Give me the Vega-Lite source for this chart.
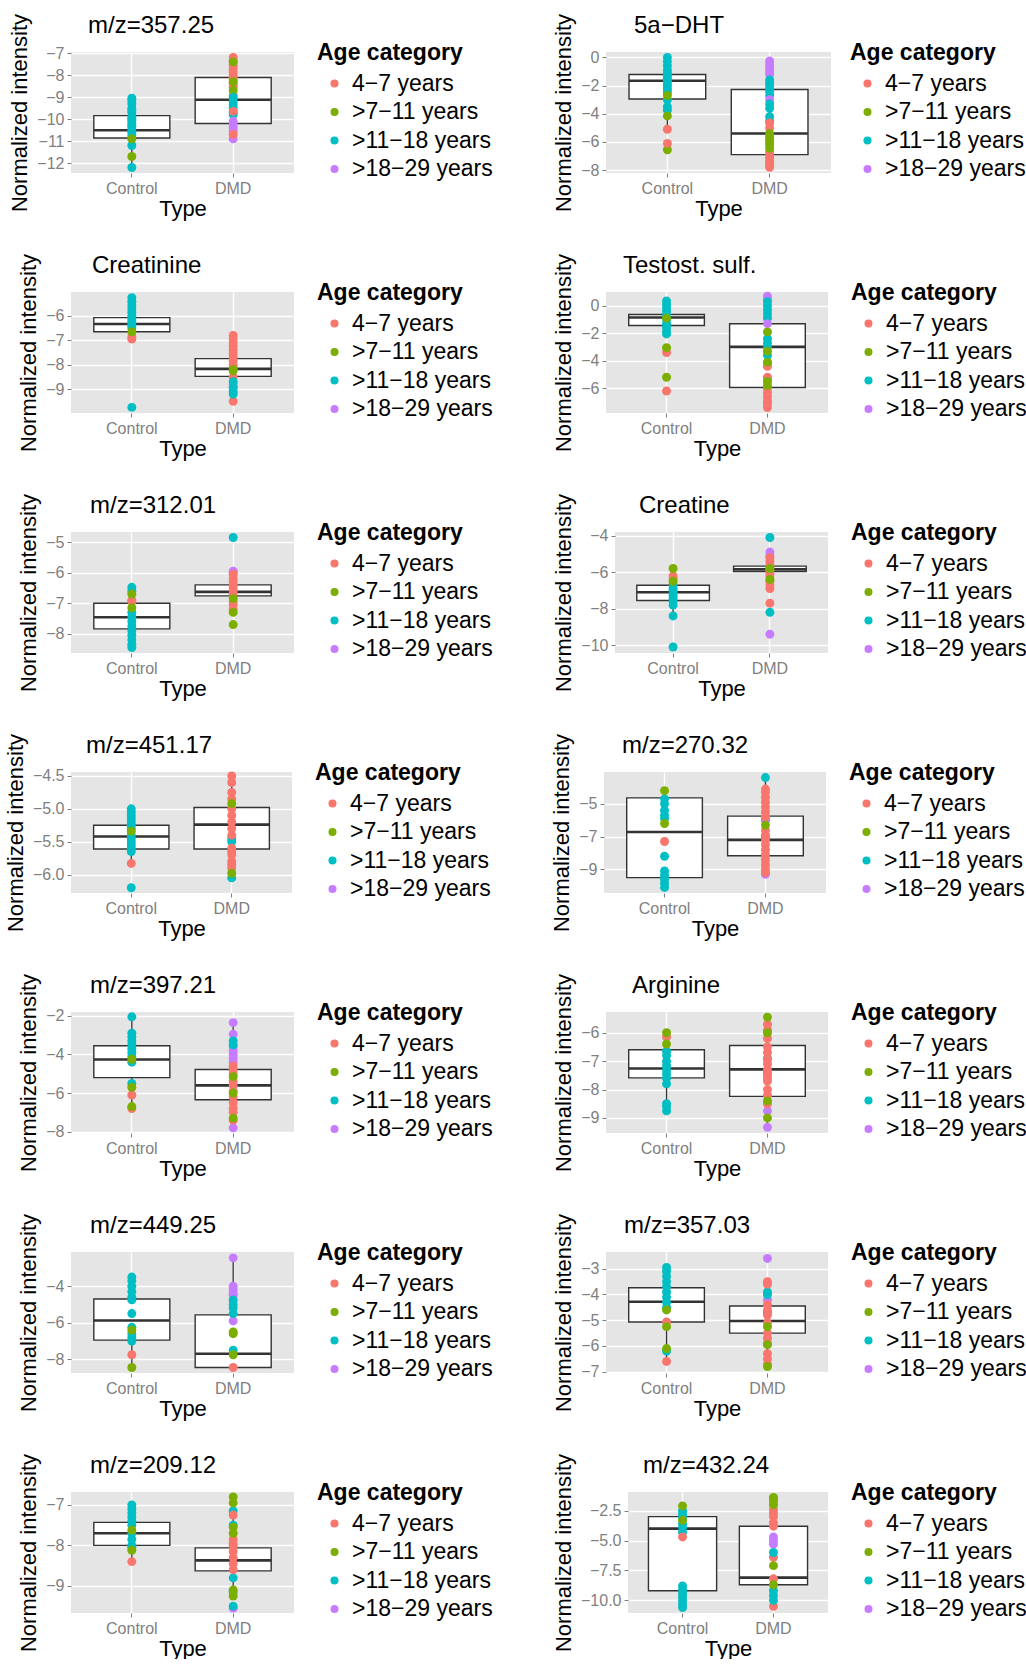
{
"$schema":"https://vega.github.io/schema/vega-lite/v6.json",
"padding":{"left":4,"top":13,"right":0,"bottom":0},
"config":{
 "font":"Liberation Sans",
 "view":{"fill":"#E5E5E5","stroke":null},
 "axis":{"domain":false,"labelOverlap":false,"labelColor":"#7F7F7F","labelFontSize":16,"tickColor":"#7F7F7F","tickSize":4,"tickWidth":1,"labelPadding":3,"titleFontSize":22,"titleFontWeight":"normal","titleColor":"black","gridColor":"white","gridWidth":1.4},
 "axisX":{"labelAngle":0,"titlePadding":2},
 "axisY":{"titlePadding":5,"tickCount":100},
 "title":{"fontSize":24,"fontWeight":"normal","anchor":"start","frame":"group","offset":-25,"color":"black"},
 "legend":{"titleFontSize":23,"titleFontWeight":"bold","titleColor":"black","labelFontSize":23,"labelColor":"black","symbolType":"circle","symbolSize":65,"symbolStrokeWidth":0,"symbolOffset":6,"rowPadding":4.5,"titlePadding":7,"labelOffset":6,"padding":0}
},
"datasets":{
"ages":[{"a":1,"age":"4−7 years"},{"a":2,"age":">7−11 years"},{"a":3,"age":">11−18 years"},{"a":4,"age":">18−29 years"}],
"box":[
{"p":1,"t":"Control","lo":-12.2,"q1":-10.86,"med":-10.51,"q3":-9.84,"hi":-9.05},{"p":1,"t":"DMD","lo":-10.9,"q1":-10.2,"med":-9.12,"q3":-8.11,"hi":-7.2},
{"p":2,"t":"Control","lo":-5.1,"q1":-2.95,"med":-1.66,"q3":-1.22,"hi":0.0},{"p":2,"t":"DMD","lo":-7.8,"q1":-6.9,"med":-5.4,"q3":-2.28,"hi":-0.25},
{"p":3,"t":"Control","lo":-6.95,"q1":-6.65,"med":-6.33,"q3":-6.07,"hi":-5.25},{"p":3,"t":"DMD","lo":-9.5,"q1":-8.48,"med":-8.17,"q3":-7.75,"hi":-6.8},
{"p":4,"t":"Control","lo":-2.05,"q1":-1.44,"med":-0.85,"q3":-0.64,"hi":0.35},{"p":4,"t":"DMD","lo":-7.4,"q1":-5.94,"med":-2.99,"q3":-1.31,"hi":0.7},
{"p":5,"t":"Control","lo":-8.45,"q1":-7.84,"med":-7.46,"q3":-7.0,"hi":-6.48},{"p":5,"t":"DMD","lo":-7.3,"q1":-6.76,"med":-6.63,"q3":-6.4,"hi":-5.95},
{"p":6,"t":"Control","lo":-8.4,"q1":-7.55,"med":-7.1,"q3":-6.72,"hi":-5.8},{"p":6,"t":"DMD","lo":-6.4,"q1":-5.97,"med":-5.85,"q3":-5.67,"hi":-5.2},
{"p":7,"t":"Control","lo":-5.83,"q1":-5.61,"med":-5.42,"q3":-5.25,"hi":-5.0},{"p":7,"t":"DMD","lo":-6.05,"q1":-5.61,"med":-5.24,"q3":-4.98,"hi":-4.5},
{"p":8,"t":"Control","lo":-10.1,"q1":-9.5,"med":-6.72,"q3":-4.64,"hi":-4.2},{"p":8,"t":"DMD","lo":-9.3,"q1":-8.17,"med":-7.2,"q3":-5.75,"hi":-3.4},
{"p":9,"t":"Control","lo":-6.8,"q1":-5.2,"med":-4.26,"q3":-3.55,"hi":-2.05},{"p":9,"t":"DMD","lo":-7.8,"q1":-6.35,"med":-5.6,"q3":-4.78,"hi":-2.35},
{"p":10,"t":"Control","lo":-8.75,"q1":-7.59,"med":-7.26,"q3":-6.6,"hi":-6.0},{"p":10,"t":"DMD","lo":-9.33,"q1":-8.24,"med":-7.29,"q3":-6.45,"hi":-5.45},
{"p":11,"t":"Control","lo":-8.45,"q1":-6.95,"med":-5.88,"q3":-4.7,"hi":-3.5},{"p":11,"t":"DMD","lo":-8.45,"q1":-8.45,"med":-7.7,"q3":-5.57,"hi":-2.45},
{"p":12,"t":"Control","lo":-6.6,"q1":-5.07,"med":-4.28,"q3":-3.74,"hi":-2.95},{"p":12,"t":"DMD","lo":-6.8,"q1":-5.5,"med":-5.03,"q3":-4.45,"hi":-3.5},
{"p":13,"t":"Control","lo":-8.4,"q1":-8.0,"med":-7.7,"q3":-7.43,"hi":-7.0},{"p":13,"t":"DMD","lo":-9.25,"q1":-8.63,"med":-8.37,"q3":-8.06,"hi":-7.25},
{"p":14,"t":"Control","lo":-10.6,"q1":-9.2,"med":-4.0,"q3":-3.0,"hi":-2.1},{"p":14,"t":"DMD","lo":-10.5,"q1":-8.7,"med":-8.1,"q3":-3.8,"hi":-1.4}
],
"pts":[
{"p":1,"t":"Control","a":3,"v":-9.05},{"p":1,"t":"Control","a":3,"v":-9.15},{"p":1,"t":"Control","a":3,"v":-9.3},{"p":1,"t":"Control","a":3,"v":-9.5},{"p":1,"t":"Control","a":3,"v":-9.6},{"p":1,"t":"Control","a":3,"v":-9.7},{"p":1,"t":"Control","a":3,"v":-9.9},{"p":1,"t":"Control","a":3,"v":-10.0},{"p":1,"t":"Control","a":3,"v":-10.05},{"p":1,"t":"Control","a":3,"v":-10.2},{"p":1,"t":"Control","a":3,"v":-10.3},{"p":1,"t":"Control","a":3,"v":-10.35},{"p":1,"t":"Control","a":3,"v":-10.5},{"p":1,"t":"Control","a":3,"v":-10.6},{"p":1,"t":"Control","a":3,"v":-10.75},{"p":1,"t":"Control","a":3,"v":-11.2},{"p":1,"t":"Control","a":3,"v":-12.2},{"p":1,"t":"Control","a":2,"v":-10.9},{"p":1,"t":"Control","a":2,"v":-11.7},
{"p":1,"t":"DMD","a":1,"v":-7.2},{"p":1,"t":"DMD","a":1,"v":-7.35},{"p":1,"t":"DMD","a":1,"v":-7.55},{"p":1,"t":"DMD","a":1,"v":-7.7},{"p":1,"t":"DMD","a":1,"v":-7.85},{"p":1,"t":"DMD","a":1,"v":-8.0},{"p":1,"t":"DMD","a":1,"v":-8.1},{"p":1,"t":"DMD","a":1,"v":-8.2},{"p":1,"t":"DMD","a":1,"v":-8.35},{"p":1,"t":"DMD","a":1,"v":-8.45},{"p":1,"t":"DMD","a":1,"v":-8.55},{"p":1,"t":"DMD","a":1,"v":-8.9},{"p":1,"t":"DMD","a":2,"v":-7.4},{"p":1,"t":"DMD","a":2,"v":-8.3},{"p":1,"t":"DMD","a":2,"v":-8.7},{"p":1,"t":"DMD","a":3,"v":-9.0},{"p":1,"t":"DMD","a":3,"v":-9.2},{"p":1,"t":"DMD","a":3,"v":-9.35},{"p":1,"t":"DMD","a":3,"v":-9.5},{"p":1,"t":"DMD","a":3,"v":-9.7},{"p":1,"t":"DMD","a":3,"v":-9.8},{"p":1,"t":"DMD","a":4,"v":-10.1},{"p":1,"t":"DMD","a":4,"v":-10.25},{"p":1,"t":"DMD","a":4,"v":-10.4},{"p":1,"t":"DMD","a":4,"v":-10.55},{"p":1,"t":"DMD","a":4,"v":-10.9},{"p":1,"t":"DMD","a":1,"v":-9.65},{"p":1,"t":"DMD","a":1,"v":-10.7},
{"p":2,"t":"Control","a":3,"v":0.0},{"p":2,"t":"Control","a":3,"v":-0.3},{"p":2,"t":"Control","a":3,"v":-0.6},{"p":2,"t":"Control","a":3,"v":-0.9},{"p":2,"t":"Control","a":3,"v":-1.1},{"p":2,"t":"Control","a":3,"v":-1.3},{"p":2,"t":"Control","a":3,"v":-1.5},{"p":2,"t":"Control","a":3,"v":-1.7},{"p":2,"t":"Control","a":3,"v":-1.9},{"p":2,"t":"Control","a":3,"v":-2.1},{"p":2,"t":"Control","a":3,"v":-2.3},{"p":2,"t":"Control","a":3,"v":-2.5},{"p":2,"t":"Control","a":3,"v":-3.0},{"p":2,"t":"Control","a":3,"v":-3.5},{"p":2,"t":"Control","a":3,"v":-3.75},{"p":2,"t":"Control","a":2,"v":-2.7},{"p":2,"t":"Control","a":2,"v":-4.15},{"p":2,"t":"Control","a":2,"v":-6.55},{"p":2,"t":"Control","a":1,"v":-5.1},{"p":2,"t":"Control","a":1,"v":-6.1},
{"p":2,"t":"DMD","a":4,"v":-0.25},{"p":2,"t":"DMD","a":4,"v":-0.5},{"p":2,"t":"DMD","a":4,"v":-0.75},{"p":2,"t":"DMD","a":4,"v":-1.0},{"p":2,"t":"DMD","a":4,"v":-1.2},{"p":2,"t":"DMD","a":3,"v":-1.6},{"p":2,"t":"DMD","a":3,"v":-1.8},{"p":2,"t":"DMD","a":3,"v":-2.0},{"p":2,"t":"DMD","a":3,"v":-2.2},{"p":2,"t":"DMD","a":3,"v":-2.4},{"p":2,"t":"DMD","a":3,"v":-2.7},{"p":2,"t":"DMD","a":4,"v":-3.0},{"p":2,"t":"DMD","a":3,"v":-3.3},{"p":2,"t":"DMD","a":3,"v":-3.6},{"p":2,"t":"DMD","a":3,"v":-4.2},{"p":2,"t":"DMD","a":3,"v":-4.5},{"p":2,"t":"DMD","a":1,"v":-4.65},{"p":2,"t":"DMD","a":1,"v":-5.0},{"p":2,"t":"DMD","a":1,"v":-6.7},{"p":2,"t":"DMD","a":1,"v":-6.9},{"p":2,"t":"DMD","a":1,"v":-7.1},{"p":2,"t":"DMD","a":1,"v":-7.3},{"p":2,"t":"DMD","a":1,"v":-7.5},{"p":2,"t":"DMD","a":1,"v":-7.7},{"p":2,"t":"DMD","a":1,"v":-7.8},{"p":2,"t":"DMD","a":2,"v":-5.4},{"p":2,"t":"DMD","a":2,"v":-5.6},{"p":2,"t":"DMD","a":2,"v":-5.8},{"p":2,"t":"DMD","a":2,"v":-6.0},{"p":2,"t":"DMD","a":2,"v":-6.2},{"p":2,"t":"DMD","a":2,"v":-6.45},
{"p":3,"t":"Control","a":3,"v":-5.25},{"p":3,"t":"Control","a":3,"v":-5.4},{"p":3,"t":"Control","a":3,"v":-5.55},{"p":3,"t":"Control","a":3,"v":-5.7},{"p":3,"t":"Control","a":3,"v":-5.85},{"p":3,"t":"Control","a":3,"v":-6.0},{"p":3,"t":"Control","a":3,"v":-6.1},{"p":3,"t":"Control","a":3,"v":-6.2},{"p":3,"t":"Control","a":3,"v":-6.3},{"p":3,"t":"Control","a":3,"v":-6.4},{"p":3,"t":"Control","a":3,"v":-6.5},{"p":3,"t":"Control","a":3,"v":-9.75},{"p":3,"t":"Control","a":1,"v":-6.85},{"p":3,"t":"Control","a":1,"v":-6.95},{"p":3,"t":"Control","a":2,"v":-6.65},
{"p":3,"t":"DMD","a":1,"v":-6.8},{"p":3,"t":"DMD","a":1,"v":-6.95},{"p":3,"t":"DMD","a":1,"v":-7.1},{"p":3,"t":"DMD","a":1,"v":-7.25},{"p":3,"t":"DMD","a":1,"v":-7.4},{"p":3,"t":"DMD","a":1,"v":-7.55},{"p":3,"t":"DMD","a":1,"v":-7.7},{"p":3,"t":"DMD","a":1,"v":-7.85},{"p":3,"t":"DMD","a":1,"v":-8.0},{"p":3,"t":"DMD","a":1,"v":-8.1},{"p":3,"t":"DMD","a":1,"v":-8.5},{"p":3,"t":"DMD","a":1,"v":-9.5},{"p":3,"t":"DMD","a":4,"v":-8.8},{"p":3,"t":"DMD","a":4,"v":-8.9},{"p":3,"t":"DMD","a":3,"v":-8.7},{"p":3,"t":"DMD","a":3,"v":-8.95},{"p":3,"t":"DMD","a":3,"v":-9.1},{"p":3,"t":"DMD","a":3,"v":-9.2},{"p":3,"t":"DMD","a":2,"v":-8.2},{"p":3,"t":"DMD","a":2,"v":-8.25},
{"p":4,"t":"Control","a":3,"v":0.35},{"p":4,"t":"Control","a":3,"v":0.1},{"p":4,"t":"Control","a":3,"v":-0.15},{"p":4,"t":"Control","a":3,"v":-0.4},{"p":4,"t":"Control","a":3,"v":-0.7},{"p":4,"t":"Control","a":3,"v":-1.0},{"p":4,"t":"Control","a":3,"v":-1.3},{"p":4,"t":"Control","a":3,"v":-1.6},{"p":4,"t":"Control","a":3,"v":-1.9},{"p":4,"t":"Control","a":3,"v":-2.05},{"p":4,"t":"Control","a":1,"v":-3.4},{"p":4,"t":"Control","a":1,"v":-6.2},{"p":4,"t":"Control","a":2,"v":-0.9},{"p":4,"t":"Control","a":2,"v":-3.05},{"p":4,"t":"Control","a":2,"v":-5.2},
{"p":4,"t":"DMD","a":4,"v":0.7},{"p":4,"t":"DMD","a":4,"v":0.45},{"p":4,"t":"DMD","a":3,"v":0.3},{"p":4,"t":"DMD","a":3,"v":0.0},{"p":4,"t":"DMD","a":3,"v":-0.3},{"p":4,"t":"DMD","a":3,"v":-0.6},{"p":4,"t":"DMD","a":3,"v":-0.9},{"p":4,"t":"DMD","a":4,"v":-1.3},{"p":4,"t":"DMD","a":3,"v":-2.4},{"p":4,"t":"DMD","a":3,"v":-2.7},{"p":4,"t":"DMD","a":3,"v":-3.0},{"p":4,"t":"DMD","a":3,"v":-3.6},{"p":4,"t":"DMD","a":1,"v":-4.2},{"p":4,"t":"DMD","a":1,"v":-4.4},{"p":4,"t":"DMD","a":1,"v":-5.2},{"p":4,"t":"DMD","a":1,"v":-5.4},{"p":4,"t":"DMD","a":1,"v":-6.0},{"p":4,"t":"DMD","a":1,"v":-6.3},{"p":4,"t":"DMD","a":1,"v":-6.6},{"p":4,"t":"DMD","a":1,"v":-6.9},{"p":4,"t":"DMD","a":1,"v":-7.1},{"p":4,"t":"DMD","a":1,"v":-7.4},{"p":4,"t":"DMD","a":2,"v":-1.9},{"p":4,"t":"DMD","a":2,"v":-3.3},{"p":4,"t":"DMD","a":2,"v":-4.1},{"p":4,"t":"DMD","a":2,"v":-5.5},{"p":4,"t":"DMD","a":2,"v":-5.8},
{"p":5,"t":"Control","a":3,"v":-6.48},{"p":5,"t":"Control","a":3,"v":-6.6},{"p":5,"t":"Control","a":3,"v":-7.3},{"p":5,"t":"Control","a":3,"v":-7.45},{"p":5,"t":"Control","a":3,"v":-7.6},{"p":5,"t":"Control","a":3,"v":-7.75},{"p":5,"t":"Control","a":3,"v":-7.9},{"p":5,"t":"Control","a":3,"v":-8.05},{"p":5,"t":"Control","a":3,"v":-8.2},{"p":5,"t":"Control","a":3,"v":-8.35},{"p":5,"t":"Control","a":3,"v":-8.45},{"p":5,"t":"Control","a":1,"v":-6.9},{"p":5,"t":"Control","a":1,"v":-6.95},{"p":5,"t":"Control","a":2,"v":-6.7},{"p":5,"t":"Control","a":2,"v":-7.15},
{"p":5,"t":"DMD","a":3,"v":-4.85},{"p":5,"t":"DMD","a":4,"v":-5.95},{"p":5,"t":"DMD","a":4,"v":-6.0},{"p":5,"t":"DMD","a":1,"v":-6.05},{"p":5,"t":"DMD","a":1,"v":-6.2},{"p":5,"t":"DMD","a":1,"v":-6.3},{"p":5,"t":"DMD","a":1,"v":-6.4},{"p":5,"t":"DMD","a":1,"v":-6.5},{"p":5,"t":"DMD","a":1,"v":-6.6},{"p":5,"t":"DMD","a":1,"v":-6.7},{"p":5,"t":"DMD","a":1,"v":-6.95},{"p":5,"t":"DMD","a":1,"v":-7.05},{"p":5,"t":"DMD","a":1,"v":-7.2},{"p":5,"t":"DMD","a":2,"v":-6.85},{"p":5,"t":"DMD","a":2,"v":-7.3},{"p":5,"t":"DMD","a":2,"v":-7.7},
{"p":6,"t":"Control","a":3,"v":-6.7},{"p":6,"t":"Control","a":3,"v":-6.9},{"p":6,"t":"Control","a":3,"v":-7.0},{"p":6,"t":"Control","a":3,"v":-7.15},{"p":6,"t":"Control","a":3,"v":-7.3},{"p":6,"t":"Control","a":3,"v":-7.45},{"p":6,"t":"Control","a":3,"v":-7.6},{"p":6,"t":"Control","a":3,"v":-7.8},{"p":6,"t":"Control","a":3,"v":-8.4},{"p":6,"t":"Control","a":3,"v":-10.1},{"p":6,"t":"Control","a":1,"v":-6.2},{"p":6,"t":"Control","a":1,"v":-6.35},{"p":6,"t":"Control","a":2,"v":-5.8},{"p":6,"t":"Control","a":2,"v":-6.5},
{"p":6,"t":"DMD","a":3,"v":-4.1},{"p":6,"t":"DMD","a":3,"v":-8.2},{"p":6,"t":"DMD","a":4,"v":-4.9},{"p":6,"t":"DMD","a":4,"v":-5.1},{"p":6,"t":"DMD","a":4,"v":-9.4},{"p":6,"t":"DMD","a":1,"v":-5.2},{"p":6,"t":"DMD","a":1,"v":-5.4},{"p":6,"t":"DMD","a":1,"v":-5.6},{"p":6,"t":"DMD","a":1,"v":-5.75},{"p":6,"t":"DMD","a":1,"v":-5.9},{"p":6,"t":"DMD","a":1,"v":-6.05},{"p":6,"t":"DMD","a":1,"v":-6.2},{"p":6,"t":"DMD","a":1,"v":-6.5},{"p":6,"t":"DMD","a":1,"v":-6.7},{"p":6,"t":"DMD","a":1,"v":-6.9},{"p":6,"t":"DMD","a":1,"v":-7.7},{"p":6,"t":"DMD","a":2,"v":-5.8},{"p":6,"t":"DMD","a":2,"v":-6.4},
{"p":7,"t":"Control","a":3,"v":-5.0},{"p":7,"t":"Control","a":3,"v":-5.05},{"p":7,"t":"Control","a":3,"v":-5.1},{"p":7,"t":"Control","a":3,"v":-5.15},{"p":7,"t":"Control","a":3,"v":-5.2},{"p":7,"t":"Control","a":3,"v":-5.25},{"p":7,"t":"Control","a":3,"v":-5.3},{"p":7,"t":"Control","a":3,"v":-5.4},{"p":7,"t":"Control","a":3,"v":-5.45},{"p":7,"t":"Control","a":3,"v":-5.5},{"p":7,"t":"Control","a":3,"v":-5.55},{"p":7,"t":"Control","a":3,"v":-5.6},{"p":7,"t":"Control","a":3,"v":-5.65},{"p":7,"t":"Control","a":3,"v":-6.2},{"p":7,"t":"Control","a":2,"v":-5.34},{"p":7,"t":"Control","a":1,"v":-5.83},
{"p":7,"t":"DMD","a":3,"v":-5.45},{"p":7,"t":"DMD","a":3,"v":-5.5},{"p":7,"t":"DMD","a":3,"v":-6.05},{"p":7,"t":"DMD","a":1,"v":-4.5},{"p":7,"t":"DMD","a":1,"v":-4.6},{"p":7,"t":"DMD","a":1,"v":-4.75},{"p":7,"t":"DMD","a":1,"v":-4.85},{"p":7,"t":"DMD","a":1,"v":-5.0},{"p":7,"t":"DMD","a":1,"v":-5.1},{"p":7,"t":"DMD","a":1,"v":-5.2},{"p":7,"t":"DMD","a":1,"v":-5.3},{"p":7,"t":"DMD","a":1,"v":-5.4},{"p":7,"t":"DMD","a":1,"v":-5.6},{"p":7,"t":"DMD","a":1,"v":-5.65},{"p":7,"t":"DMD","a":1,"v":-5.7},{"p":7,"t":"DMD","a":1,"v":-5.8},{"p":7,"t":"DMD","a":1,"v":-5.85},{"p":7,"t":"DMD","a":1,"v":-5.9},{"p":7,"t":"DMD","a":2,"v":-4.92},{"p":7,"t":"DMD","a":2,"v":-5.98},
{"p":8,"t":"Control","a":3,"v":-4.7},{"p":8,"t":"Control","a":3,"v":-5.0},{"p":8,"t":"Control","a":3,"v":-5.4},{"p":8,"t":"Control","a":3,"v":-5.7},{"p":8,"t":"Control","a":3,"v":-5.9},{"p":8,"t":"Control","a":3,"v":-8.2},{"p":8,"t":"Control","a":3,"v":-9.1},{"p":8,"t":"Control","a":3,"v":-9.35},{"p":8,"t":"Control","a":3,"v":-9.6},{"p":8,"t":"Control","a":3,"v":-9.85},{"p":8,"t":"Control","a":3,"v":-10.1},{"p":8,"t":"Control","a":2,"v":-4.2},{"p":8,"t":"Control","a":2,"v":-6.2},{"p":8,"t":"Control","a":1,"v":-7.3},
{"p":8,"t":"DMD","a":3,"v":-3.4},{"p":8,"t":"DMD","a":3,"v":-6.0},{"p":8,"t":"DMD","a":3,"v":-7.0},{"p":8,"t":"DMD","a":4,"v":-5.9},{"p":8,"t":"DMD","a":4,"v":-9.3},{"p":8,"t":"DMD","a":1,"v":-4.1},{"p":8,"t":"DMD","a":1,"v":-4.3},{"p":8,"t":"DMD","a":1,"v":-4.6},{"p":8,"t":"DMD","a":1,"v":-4.9},{"p":8,"t":"DMD","a":1,"v":-5.2},{"p":8,"t":"DMD","a":1,"v":-5.5},{"p":8,"t":"DMD","a":1,"v":-5.8},{"p":8,"t":"DMD","a":1,"v":-6.6},{"p":8,"t":"DMD","a":1,"v":-6.9},{"p":8,"t":"DMD","a":1,"v":-7.2},{"p":8,"t":"DMD","a":1,"v":-7.5},{"p":8,"t":"DMD","a":1,"v":-7.8},{"p":8,"t":"DMD","a":1,"v":-8.1},{"p":8,"t":"DMD","a":1,"v":-8.4},{"p":8,"t":"DMD","a":1,"v":-8.7},{"p":8,"t":"DMD","a":1,"v":-9.0},{"p":8,"t":"DMD","a":1,"v":-9.2},{"p":8,"t":"DMD","a":2,"v":-6.3},
{"p":9,"t":"Control","a":3,"v":-2.05},{"p":9,"t":"Control","a":3,"v":-2.9},{"p":9,"t":"Control","a":3,"v":-3.1},{"p":9,"t":"Control","a":3,"v":-3.3},{"p":9,"t":"Control","a":3,"v":-3.5},{"p":9,"t":"Control","a":3,"v":-3.7},{"p":9,"t":"Control","a":3,"v":-3.9},{"p":9,"t":"Control","a":3,"v":-4.1},{"p":9,"t":"Control","a":3,"v":-4.4},{"p":9,"t":"Control","a":3,"v":-5.5},{"p":9,"t":"Control","a":1,"v":-6.1},{"p":9,"t":"Control","a":1,"v":-6.8},{"p":9,"t":"Control","a":2,"v":-4.25},{"p":9,"t":"Control","a":2,"v":-5.7},{"p":9,"t":"Control","a":2,"v":-6.7},
{"p":9,"t":"DMD","a":4,"v":-2.35},{"p":9,"t":"DMD","a":4,"v":-2.95},{"p":9,"t":"DMD","a":4,"v":-3.6},{"p":9,"t":"DMD","a":4,"v":-3.8},{"p":9,"t":"DMD","a":4,"v":-4.0},{"p":9,"t":"DMD","a":4,"v":-4.2},{"p":9,"t":"DMD","a":4,"v":-4.4},{"p":9,"t":"DMD","a":4,"v":-7.8},{"p":9,"t":"DMD","a":3,"v":-3.3},{"p":9,"t":"DMD","a":3,"v":-3.5},{"p":9,"t":"DMD","a":1,"v":-4.6},{"p":9,"t":"DMD","a":1,"v":-4.8},{"p":9,"t":"DMD","a":1,"v":-5.0},{"p":9,"t":"DMD","a":1,"v":-5.4},{"p":9,"t":"DMD","a":1,"v":-5.6},{"p":9,"t":"DMD","a":1,"v":-5.9},{"p":9,"t":"DMD","a":1,"v":-6.2},{"p":9,"t":"DMD","a":1,"v":-6.5},{"p":9,"t":"DMD","a":1,"v":-6.8},{"p":9,"t":"DMD","a":1,"v":-7.0},{"p":9,"t":"DMD","a":1,"v":-7.4},{"p":9,"t":"DMD","a":2,"v":-5.15},{"p":9,"t":"DMD","a":2,"v":-6.0},{"p":9,"t":"DMD","a":2,"v":-7.3},
{"p":10,"t":"Control","a":3,"v":-6.65},{"p":10,"t":"Control","a":3,"v":-6.8},{"p":10,"t":"Control","a":3,"v":-7.0},{"p":10,"t":"Control","a":3,"v":-7.15},{"p":10,"t":"Control","a":3,"v":-7.3},{"p":10,"t":"Control","a":3,"v":-7.45},{"p":10,"t":"Control","a":3,"v":-7.6},{"p":10,"t":"Control","a":3,"v":-7.8},{"p":10,"t":"Control","a":3,"v":-8.5},{"p":10,"t":"Control","a":3,"v":-8.6},{"p":10,"t":"Control","a":3,"v":-8.75},{"p":10,"t":"Control","a":1,"v":-6.15},{"p":10,"t":"Control","a":2,"v":-6.0},{"p":10,"t":"Control","a":2,"v":-6.4},
{"p":10,"t":"DMD","a":4,"v":-7.6},{"p":10,"t":"DMD","a":4,"v":-8.75},{"p":10,"t":"DMD","a":4,"v":-9.33},{"p":10,"t":"DMD","a":3,"v":-6.9},{"p":10,"t":"DMD","a":3,"v":-7.4},{"p":10,"t":"DMD","a":1,"v":-5.7},{"p":10,"t":"DMD","a":1,"v":-5.9},{"p":10,"t":"DMD","a":1,"v":-6.2},{"p":10,"t":"DMD","a":1,"v":-6.5},{"p":10,"t":"DMD","a":1,"v":-6.7},{"p":10,"t":"DMD","a":1,"v":-6.95},{"p":10,"t":"DMD","a":1,"v":-7.1},{"p":10,"t":"DMD","a":1,"v":-7.3},{"p":10,"t":"DMD","a":1,"v":-7.5},{"p":10,"t":"DMD","a":1,"v":-7.7},{"p":10,"t":"DMD","a":1,"v":-8.0},{"p":10,"t":"DMD","a":1,"v":-8.2},{"p":10,"t":"DMD","a":1,"v":-8.5},{"p":10,"t":"DMD","a":2,"v":-5.45},{"p":10,"t":"DMD","a":2,"v":-6.0},{"p":10,"t":"DMD","a":2,"v":-8.4},{"p":10,"t":"DMD","a":2,"v":-9.0},
{"p":11,"t":"Control","a":3,"v":-3.5},{"p":11,"t":"Control","a":3,"v":-3.7},{"p":11,"t":"Control","a":3,"v":-4.0},{"p":11,"t":"Control","a":3,"v":-4.3},{"p":11,"t":"Control","a":3,"v":-4.6},{"p":11,"t":"Control","a":3,"v":-4.75},{"p":11,"t":"Control","a":3,"v":-5.5},{"p":11,"t":"Control","a":3,"v":-6.25},{"p":11,"t":"Control","a":3,"v":-6.6},{"p":11,"t":"Control","a":3,"v":-6.8},{"p":11,"t":"Control","a":3,"v":-7.0},{"p":11,"t":"Control","a":1,"v":-7.75},{"p":11,"t":"Control","a":2,"v":-6.4},{"p":11,"t":"Control","a":2,"v":-8.45},
{"p":11,"t":"DMD","a":4,"v":-2.45},{"p":11,"t":"DMD","a":4,"v":-4.0},{"p":11,"t":"DMD","a":4,"v":-4.2},{"p":11,"t":"DMD","a":4,"v":-4.4},{"p":11,"t":"DMD","a":4,"v":-4.5},{"p":11,"t":"DMD","a":4,"v":-5.9},{"p":11,"t":"DMD","a":3,"v":-4.75},{"p":11,"t":"DMD","a":3,"v":-5.0},{"p":11,"t":"DMD","a":3,"v":-5.2},{"p":11,"t":"DMD","a":3,"v":-5.5},{"p":11,"t":"DMD","a":3,"v":-7.5},{"p":11,"t":"DMD","a":1,"v":-8.45},{"p":11,"t":"DMD","a":2,"v":-6.5},{"p":11,"t":"DMD","a":2,"v":-6.6},{"p":11,"t":"DMD","a":2,"v":-7.75},
{"p":12,"t":"Control","a":3,"v":-2.95},{"p":12,"t":"Control","a":3,"v":-3.1},{"p":12,"t":"Control","a":3,"v":-3.3},{"p":12,"t":"Control","a":3,"v":-3.5},{"p":12,"t":"Control","a":3,"v":-3.7},{"p":12,"t":"Control","a":3,"v":-3.9},{"p":12,"t":"Control","a":3,"v":-4.1},{"p":12,"t":"Control","a":3,"v":-4.3},{"p":12,"t":"Control","a":3,"v":-4.5},{"p":12,"t":"Control","a":3,"v":-6.2},{"p":12,"t":"Control","a":1,"v":-5.07},{"p":12,"t":"Control","a":1,"v":-6.6},{"p":12,"t":"Control","a":2,"v":-4.6},{"p":12,"t":"Control","a":2,"v":-5.25},{"p":12,"t":"Control","a":2,"v":-6.1},
{"p":12,"t":"DMD","a":4,"v":-2.6},{"p":12,"t":"DMD","a":4,"v":-4.2},{"p":12,"t":"DMD","a":3,"v":-3.9},{"p":12,"t":"DMD","a":3,"v":-4.0},{"p":12,"t":"DMD","a":3,"v":-4.7},{"p":12,"t":"DMD","a":1,"v":-3.5},{"p":12,"t":"DMD","a":1,"v":-3.6},{"p":12,"t":"DMD","a":1,"v":-4.4},{"p":12,"t":"DMD","a":1,"v":-4.6},{"p":12,"t":"DMD","a":1,"v":-4.8},{"p":12,"t":"DMD","a":1,"v":-5.1},{"p":12,"t":"DMD","a":1,"v":-5.5},{"p":12,"t":"DMD","a":1,"v":-5.7},{"p":12,"t":"DMD","a":1,"v":-5.9},{"p":12,"t":"DMD","a":1,"v":-6.3},{"p":12,"t":"DMD","a":1,"v":-6.5},{"p":12,"t":"DMD","a":1,"v":-6.7},{"p":12,"t":"DMD","a":2,"v":-5.25},{"p":12,"t":"DMD","a":2,"v":-5.95},{"p":12,"t":"DMD","a":2,"v":-6.8},
{"p":13,"t":"Control","a":3,"v":-7.0},{"p":13,"t":"Control","a":3,"v":-7.1},{"p":13,"t":"Control","a":3,"v":-7.2},{"p":13,"t":"Control","a":3,"v":-7.3},{"p":13,"t":"Control","a":3,"v":-7.4},{"p":13,"t":"Control","a":3,"v":-7.5},{"p":13,"t":"Control","a":3,"v":-7.7},{"p":13,"t":"Control","a":3,"v":-7.85},{"p":13,"t":"Control","a":3,"v":-8.0},{"p":13,"t":"Control","a":3,"v":-8.05},{"p":13,"t":"Control","a":1,"v":-8.4},{"p":13,"t":"Control","a":2,"v":-7.62},{"p":13,"t":"Control","a":2,"v":-8.12},
{"p":13,"t":"DMD","a":4,"v":-9.55},{"p":13,"t":"DMD","a":3,"v":-7.15},{"p":13,"t":"DMD","a":3,"v":-7.5},{"p":13,"t":"DMD","a":3,"v":-8.8},{"p":13,"t":"DMD","a":3,"v":-9.15},{"p":13,"t":"DMD","a":3,"v":-9.5},{"p":13,"t":"DMD","a":1,"v":-7.25},{"p":13,"t":"DMD","a":1,"v":-7.85},{"p":13,"t":"DMD","a":1,"v":-7.95},{"p":13,"t":"DMD","a":1,"v":-8.0},{"p":13,"t":"DMD","a":1,"v":-8.15},{"p":13,"t":"DMD","a":1,"v":-8.3},{"p":13,"t":"DMD","a":1,"v":-8.45},{"p":13,"t":"DMD","a":1,"v":-8.6},{"p":13,"t":"DMD","a":2,"v":-6.8},{"p":13,"t":"DMD","a":2,"v":-6.95},{"p":13,"t":"DMD","a":2,"v":-7.55},{"p":13,"t":"DMD","a":2,"v":-7.7},{"p":13,"t":"DMD","a":2,"v":-9.1},{"p":13,"t":"DMD","a":2,"v":-9.25},
{"p":14,"t":"Control","a":3,"v":-2.5},{"p":14,"t":"Control","a":3,"v":-2.8},{"p":14,"t":"Control","a":3,"v":-3.1},{"p":14,"t":"Control","a":3,"v":-3.6},{"p":14,"t":"Control","a":3,"v":-3.9},{"p":14,"t":"Control","a":3,"v":-4.3},{"p":14,"t":"Control","a":3,"v":-8.8},{"p":14,"t":"Control","a":3,"v":-9.1},{"p":14,"t":"Control","a":3,"v":-9.4},{"p":14,"t":"Control","a":3,"v":-9.7},{"p":14,"t":"Control","a":3,"v":-10.0},{"p":14,"t":"Control","a":3,"v":-10.3},{"p":14,"t":"Control","a":3,"v":-10.6},{"p":14,"t":"Control","a":1,"v":-4.7},{"p":14,"t":"Control","a":2,"v":-2.1},{"p":14,"t":"Control","a":2,"v":-3.3},
{"p":14,"t":"DMD","a":4,"v":-1.5},{"p":14,"t":"DMD","a":4,"v":-4.7},{"p":14,"t":"DMD","a":4,"v":-5.0},{"p":14,"t":"DMD","a":4,"v":-5.3},{"p":14,"t":"DMD","a":1,"v":-2.4},{"p":14,"t":"DMD","a":1,"v":-2.7},{"p":14,"t":"DMD","a":1,"v":-3.0},{"p":14,"t":"DMD","a":1,"v":-3.5},{"p":14,"t":"DMD","a":1,"v":-3.8},{"p":14,"t":"DMD","a":1,"v":-6.4},{"p":14,"t":"DMD","a":1,"v":-8.2},{"p":14,"t":"DMD","a":1,"v":-10.5},{"p":14,"t":"DMD","a":3,"v":-6.0},{"p":14,"t":"DMD","a":3,"v":-9.2},{"p":14,"t":"DMD","a":3,"v":-9.6},{"p":14,"t":"DMD","a":3,"v":-10.0},{"p":14,"t":"DMD","a":2,"v":-1.4},{"p":14,"t":"DMD","a":2,"v":-1.7},{"p":14,"t":"DMD","a":2,"v":-2.0},{"p":14,"t":"DMD","a":2,"v":-7.1},{"p":14,"t":"DMD","a":2,"v":-8.7}
]
},
"columns":1,
"align":"none",
"spacing":{"row":34,"column":20},
"resolve":{"scale":{"color":"independent","x":"independent","y":"independent"},"legend":{"color":"independent"}},
"concat":[
{"spacing":59,"resolve":{"scale":{"color":"independent","x":"independent","y":"independent"},"legend":{"color":"independent"}},"hconcat":[
{"title":{"text":"m/z=357.25","dx":17},"width":223,"height":121,
 "encoding":{"x":{"field":"t","type":"nominal","title":"Type","sort":["Control","DMD"],"scale":{"paddingInner":0.25,"paddingOuter":0.225},"axis":{"bandPosition":0.5,"grid":true}}},
 "layer":[
 {"data":{"name":"box"},"transform":[{"filter":"datum.p==1"}],"mark":{"type":"rule","color":"#333333","strokeWidth":1.3},"encoding":{"y":{"field":"lo","type":"quantitative","title":"Normalized intensity","scale":{"domain":[-12.45,-6.95],"nice":false,"zero":false},"axis":{"tickCount":100,"values":[-7,-8,-9,-10,-11,-12],"format":"d"}},"y2":{"field":"hi"}}},
 {"data":{"name":"box"},"transform":[{"filter":"datum.p==1"}],"mark":{"type":"bar","fill":"white","stroke":"#333333","strokeWidth":1.4},"encoding":{"y":{"field":"q1","type":"quantitative","title":"Normalized intensity"},"y2":{"field":"q3"}}},
 {"data":{"name":"box"},"transform":[{"filter":"datum.p==1"}],"mark":{"type":"bar","fill":"white","stroke":"#333333","strokeWidth":2.6},"encoding":{"y":{"field":"med","type":"quantitative","title":"Normalized intensity"},"y2":{"field":"med"}}},
 {"data":{"name":"pts"},"transform":[{"filter":"datum.p==1"},{"lookup":"a","from":{"data":{"name":"ages"},"key":"a","fields":["age"]}}],"mark":{"type":"circle","size":80,"opacity":1},"encoding":{"y":{"field":"v","type":"quantitative","title":"Normalized intensity"},"color":{"field":"age","type":"nominal","title":"Age category","scale":{"domain":["4−7 years",">7−11 years",">11−18 years",">18−29 years"],"range":["#F8766D","#7CAE00","#00BFC4","#C77CFF"]},"legend":{"orient":"none","legendX":246,"legendY":-10}}}}
 ]},
{"title":{"text":"5a−DHT","dx":28},"width":225,"height":121,
 "encoding":{"x":{"field":"t","type":"nominal","title":"Type","sort":["Control","DMD"],"scale":{"paddingInner":0.25,"paddingOuter":0.225},"axis":{"bandPosition":0.5,"grid":true}}},
 "layer":[
 {"data":{"name":"box"},"transform":[{"filter":"datum.p==2"}],"mark":{"type":"rule","color":"#333333","strokeWidth":1.3},"encoding":{"y":{"field":"lo","type":"quantitative","title":"Normalized intensity","scale":{"domain":[-8.2,0.38],"nice":false,"zero":false},"axis":{"tickCount":100,"values":[0,-2,-4,-6,-8],"format":"d"}},"y2":{"field":"hi"}}},
 {"data":{"name":"box"},"transform":[{"filter":"datum.p==2"}],"mark":{"type":"bar","fill":"white","stroke":"#333333","strokeWidth":1.4},"encoding":{"y":{"field":"q1","type":"quantitative","title":"Normalized intensity"},"y2":{"field":"q3"}}},
 {"data":{"name":"box"},"transform":[{"filter":"datum.p==2"}],"mark":{"type":"bar","fill":"white","stroke":"#333333","strokeWidth":2.6},"encoding":{"y":{"field":"med","type":"quantitative","title":"Normalized intensity"},"y2":{"field":"med"}}},
 {"data":{"name":"pts"},"transform":[{"filter":"datum.p==2"},{"lookup":"a","from":{"data":{"name":"ages"},"key":"a","fields":["age"]}}],"mark":{"type":"circle","size":80,"opacity":1},"encoding":{"y":{"field":"v","type":"quantitative","title":"Normalized intensity"},"color":{"field":"age","type":"nominal","title":"Age category","scale":{"domain":["4−7 years",">7−11 years",">11−18 years",">18−29 years"],"range":["#F8766D","#7CAE00","#00BFC4","#C77CFF"]},"legend":{"orient":"none","legendX":244,"legendY":-10}}}}
 ]}
]},
{"spacing":59,"resolve":{"scale":{"color":"independent","x":"independent","y":"independent"},"legend":{"color":"independent"}},"hconcat":[
{"title":{"text":"Creatinine","dx":21},"width":223,"height":121,
 "encoding":{"x":{"field":"t","type":"nominal","title":"Type","sort":["Control","DMD"],"scale":{"paddingInner":0.25,"paddingOuter":0.225},"axis":{"bandPosition":0.5,"grid":true}}},
 "layer":[
 {"data":{"name":"box"},"transform":[{"filter":"datum.p==3"}],"mark":{"type":"rule","color":"#333333","strokeWidth":1.3},"encoding":{"y":{"field":"lo","type":"quantitative","title":"Normalized intensity","scale":{"domain":[-9.98,-5.02],"nice":false,"zero":false},"axis":{"tickCount":100,"values":[-6,-7,-8,-9],"format":"d"}},"y2":{"field":"hi"}}},
 {"data":{"name":"box"},"transform":[{"filter":"datum.p==3"}],"mark":{"type":"bar","fill":"white","stroke":"#333333","strokeWidth":1.4},"encoding":{"y":{"field":"q1","type":"quantitative","title":"Normalized intensity"},"y2":{"field":"q3"}}},
 {"data":{"name":"box"},"transform":[{"filter":"datum.p==3"}],"mark":{"type":"bar","fill":"white","stroke":"#333333","strokeWidth":2.6},"encoding":{"y":{"field":"med","type":"quantitative","title":"Normalized intensity"},"y2":{"field":"med"}}},
 {"data":{"name":"pts"},"transform":[{"filter":"datum.p==3"},{"lookup":"a","from":{"data":{"name":"ages"},"key":"a","fields":["age"]}}],"mark":{"type":"circle","size":80,"opacity":1},"encoding":{"y":{"field":"v","type":"quantitative","title":"Normalized intensity"},"color":{"field":"age","type":"nominal","title":"Age category","scale":{"domain":["4−7 years",">7−11 years",">11−18 years",">18−29 years"],"range":["#F8766D","#7CAE00","#00BFC4","#C77CFF"]},"legend":{"orient":"none","legendX":246,"legendY":-10}}}}
 ]},
{"title":{"text":"Testost. sulf.","dx":17},"width":222,"height":121,
 "encoding":{"x":{"field":"t","type":"nominal","title":"Type","sort":["Control","DMD"],"scale":{"paddingInner":0.25,"paddingOuter":0.225},"axis":{"bandPosition":0.5,"grid":true}}},
 "layer":[
 {"data":{"name":"box"},"transform":[{"filter":"datum.p==4"}],"mark":{"type":"rule","color":"#333333","strokeWidth":1.3},"encoding":{"y":{"field":"lo","type":"quantitative","title":"Normalized intensity","scale":{"domain":[-7.8,1.0],"nice":false,"zero":false},"axis":{"tickCount":100,"values":[0,-2,-4,-6],"format":"d"}},"y2":{"field":"hi"}}},
 {"data":{"name":"box"},"transform":[{"filter":"datum.p==4"}],"mark":{"type":"bar","fill":"white","stroke":"#333333","strokeWidth":1.4},"encoding":{"y":{"field":"q1","type":"quantitative","title":"Normalized intensity"},"y2":{"field":"q3"}}},
 {"data":{"name":"box"},"transform":[{"filter":"datum.p==4"}],"mark":{"type":"bar","fill":"white","stroke":"#333333","strokeWidth":2.6},"encoding":{"y":{"field":"med","type":"quantitative","title":"Normalized intensity"},"y2":{"field":"med"}}},
 {"data":{"name":"pts"},"transform":[{"filter":"datum.p==4"},{"lookup":"a","from":{"data":{"name":"ages"},"key":"a","fields":["age"]}}],"mark":{"type":"circle","size":80,"opacity":1},"encoding":{"y":{"field":"v","type":"quantitative","title":"Normalized intensity"},"color":{"field":"age","type":"nominal","title":"Age category","scale":{"domain":["4−7 years",">7−11 years",">11−18 years",">18−29 years"],"range":["#F8766D","#7CAE00","#00BFC4","#C77CFF"]},"legend":{"orient":"none","legendX":245,"legendY":-10}}}}
 ]}
]},
{"spacing":59,"resolve":{"scale":{"color":"independent","x":"independent","y":"independent"},"legend":{"color":"independent"}},"hconcat":[
{"title":{"text":"m/z=312.01","dx":19},"width":223,"height":121,
 "encoding":{"x":{"field":"t","type":"nominal","title":"Type","sort":["Control","DMD"],"scale":{"paddingInner":0.25,"paddingOuter":0.225},"axis":{"bandPosition":0.5,"grid":true}}},
 "layer":[
 {"data":{"name":"box"},"transform":[{"filter":"datum.p==5"}],"mark":{"type":"rule","color":"#333333","strokeWidth":1.3},"encoding":{"y":{"field":"lo","type":"quantitative","title":"Normalized intensity","scale":{"domain":[-8.63,-4.67],"nice":false,"zero":false},"axis":{"tickCount":100,"values":[-5,-6,-7,-8],"format":"d"}},"y2":{"field":"hi"}}},
 {"data":{"name":"box"},"transform":[{"filter":"datum.p==5"}],"mark":{"type":"bar","fill":"white","stroke":"#333333","strokeWidth":1.4},"encoding":{"y":{"field":"q1","type":"quantitative","title":"Normalized intensity"},"y2":{"field":"q3"}}},
 {"data":{"name":"box"},"transform":[{"filter":"datum.p==5"}],"mark":{"type":"bar","fill":"white","stroke":"#333333","strokeWidth":2.6},"encoding":{"y":{"field":"med","type":"quantitative","title":"Normalized intensity"},"y2":{"field":"med"}}},
 {"data":{"name":"pts"},"transform":[{"filter":"datum.p==5"},{"lookup":"a","from":{"data":{"name":"ages"},"key":"a","fields":["age"]}}],"mark":{"type":"circle","size":80,"opacity":1},"encoding":{"y":{"field":"v","type":"quantitative","title":"Normalized intensity"},"color":{"field":"age","type":"nominal","title":"Age category","scale":{"domain":["4−7 years",">7−11 years",">11−18 years",">18−29 years"],"range":["#F8766D","#7CAE00","#00BFC4","#C77CFF"]},"legend":{"orient":"none","legendX":246,"legendY":-10}}}}
 ]},
{"title":{"text":"Creatine","dx":24},"width":213,"height":121,
 "encoding":{"x":{"field":"t","type":"nominal","title":"Type","sort":["Control","DMD"],"scale":{"paddingInner":0.25,"paddingOuter":0.225},"axis":{"bandPosition":0.5,"grid":true}}},
 "layer":[
 {"data":{"name":"box"},"transform":[{"filter":"datum.p==6"}],"mark":{"type":"rule","color":"#333333","strokeWidth":1.3},"encoding":{"y":{"field":"lo","type":"quantitative","title":"Normalized intensity","scale":{"domain":[-10.43,-3.8],"nice":false,"zero":false},"axis":{"tickCount":100,"values":[-4,-6,-8,-10],"format":"d"}},"y2":{"field":"hi"}}},
 {"data":{"name":"box"},"transform":[{"filter":"datum.p==6"}],"mark":{"type":"bar","fill":"white","stroke":"#333333","strokeWidth":1.4},"encoding":{"y":{"field":"q1","type":"quantitative","title":"Normalized intensity"},"y2":{"field":"q3"}}},
 {"data":{"name":"box"},"transform":[{"filter":"datum.p==6"}],"mark":{"type":"bar","fill":"white","stroke":"#333333","strokeWidth":2.6},"encoding":{"y":{"field":"med","type":"quantitative","title":"Normalized intensity"},"y2":{"field":"med"}}},
 {"data":{"name":"pts"},"transform":[{"filter":"datum.p==6"},{"lookup":"a","from":{"data":{"name":"ages"},"key":"a","fields":["age"]}}],"mark":{"type":"circle","size":80,"opacity":1},"encoding":{"y":{"field":"v","type":"quantitative","title":"Normalized intensity"},"color":{"field":"age","type":"nominal","title":"Age category","scale":{"domain":["4−7 years",">7−11 years",">11−18 years",">18−29 years"],"range":["#F8766D","#7CAE00","#00BFC4","#C77CFF"]},"legend":{"orient":"none","legendX":236,"legendY":-10}}}}
 ]}
]},
{"spacing":59,"resolve":{"scale":{"color":"independent","x":"independent","y":"independent"},"legend":{"color":"independent"}},"hconcat":[
{"title":{"text":"m/z=451.17","dx":15},"width":221,"height":121,
 "encoding":{"x":{"field":"t","type":"nominal","title":"Type","sort":["Control","DMD"],"scale":{"paddingInner":0.25,"paddingOuter":0.225},"axis":{"bandPosition":0.5,"grid":true}}},
 "layer":[
 {"data":{"name":"box"},"transform":[{"filter":"datum.p==7"}],"mark":{"type":"rule","color":"#333333","strokeWidth":1.3},"encoding":{"y":{"field":"lo","type":"quantitative","title":"Normalized intensity","scale":{"domain":[-6.28,-4.44],"nice":false,"zero":false},"axis":{"tickCount":100,"values":[-4.5,-5,-5.5,-6],"format":".1f"}},"y2":{"field":"hi"}}},
 {"data":{"name":"box"},"transform":[{"filter":"datum.p==7"}],"mark":{"type":"bar","fill":"white","stroke":"#333333","strokeWidth":1.4},"encoding":{"y":{"field":"q1","type":"quantitative","title":"Normalized intensity"},"y2":{"field":"q3"}}},
 {"data":{"name":"box"},"transform":[{"filter":"datum.p==7"}],"mark":{"type":"bar","fill":"white","stroke":"#333333","strokeWidth":2.6},"encoding":{"y":{"field":"med","type":"quantitative","title":"Normalized intensity"},"y2":{"field":"med"}}},
 {"data":{"name":"pts"},"transform":[{"filter":"datum.p==7"},{"lookup":"a","from":{"data":{"name":"ages"},"key":"a","fields":["age"]}}],"mark":{"type":"circle","size":80,"opacity":1},"encoding":{"y":{"field":"v","type":"quantitative","title":"Normalized intensity"},"color":{"field":"age","type":"nominal","title":"Age category","scale":{"domain":["4−7 years",">7−11 years",">11−18 years",">18−29 years"],"range":["#F8766D","#7CAE00","#00BFC4","#C77CFF"]},"legend":{"orient":"none","legendX":244,"legendY":-10}}}}
 ]},
{"title":{"text":"m/z=270.32","dx":18},"width":222,"height":121,
 "encoding":{"x":{"field":"t","type":"nominal","title":"Type","sort":["Control","DMD"],"scale":{"paddingInner":0.25,"paddingOuter":0.225},"axis":{"bandPosition":0.5,"grid":true}}},
 "layer":[
 {"data":{"name":"box"},"transform":[{"filter":"datum.p==8"}],"mark":{"type":"rule","color":"#333333","strokeWidth":1.3},"encoding":{"y":{"field":"lo","type":"quantitative","title":"Normalized intensity","scale":{"domain":[-10.44,-3.06],"nice":false,"zero":false},"axis":{"tickCount":100,"values":[-5,-7,-9],"format":"d"}},"y2":{"field":"hi"}}},
 {"data":{"name":"box"},"transform":[{"filter":"datum.p==8"}],"mark":{"type":"bar","fill":"white","stroke":"#333333","strokeWidth":1.4},"encoding":{"y":{"field":"q1","type":"quantitative","title":"Normalized intensity"},"y2":{"field":"q3"}}},
 {"data":{"name":"box"},"transform":[{"filter":"datum.p==8"}],"mark":{"type":"bar","fill":"white","stroke":"#333333","strokeWidth":2.6},"encoding":{"y":{"field":"med","type":"quantitative","title":"Normalized intensity"},"y2":{"field":"med"}}},
 {"data":{"name":"pts"},"transform":[{"filter":"datum.p==8"},{"lookup":"a","from":{"data":{"name":"ages"},"key":"a","fields":["age"]}}],"mark":{"type":"circle","size":80,"opacity":1},"encoding":{"y":{"field":"v","type":"quantitative","title":"Normalized intensity"},"color":{"field":"age","type":"nominal","title":"Age category","scale":{"domain":["4−7 years",">7−11 years",">11−18 years",">18−29 years"],"range":["#F8766D","#7CAE00","#00BFC4","#C77CFF"]},"legend":{"orient":"none","legendX":245,"legendY":-10}}}}
 ]}
]},
{"spacing":59,"resolve":{"scale":{"color":"independent","x":"independent","y":"independent"},"legend":{"color":"independent"}},"hconcat":[
{"title":{"text":"m/z=397.21","dx":19},"width":223,"height":121,
 "encoding":{"x":{"field":"t","type":"nominal","title":"Type","sort":["Control","DMD"],"scale":{"paddingInner":0.25,"paddingOuter":0.225},"axis":{"bandPosition":0.5,"grid":true}}},
 "layer":[
 {"data":{"name":"box"},"transform":[{"filter":"datum.p==9"}],"mark":{"type":"rule","color":"#333333","strokeWidth":1.3},"encoding":{"y":{"field":"lo","type":"quantitative","title":"Normalized intensity","scale":{"domain":[-8.07,-1.8],"nice":false,"zero":false},"axis":{"tickCount":100,"values":[-2,-4,-6,-8],"format":"d"}},"y2":{"field":"hi"}}},
 {"data":{"name":"box"},"transform":[{"filter":"datum.p==9"}],"mark":{"type":"bar","fill":"white","stroke":"#333333","strokeWidth":1.4},"encoding":{"y":{"field":"q1","type":"quantitative","title":"Normalized intensity"},"y2":{"field":"q3"}}},
 {"data":{"name":"box"},"transform":[{"filter":"datum.p==9"}],"mark":{"type":"bar","fill":"white","stroke":"#333333","strokeWidth":2.6},"encoding":{"y":{"field":"med","type":"quantitative","title":"Normalized intensity"},"y2":{"field":"med"}}},
 {"data":{"name":"pts"},"transform":[{"filter":"datum.p==9"},{"lookup":"a","from":{"data":{"name":"ages"},"key":"a","fields":["age"]}}],"mark":{"type":"circle","size":80,"opacity":1},"encoding":{"y":{"field":"v","type":"quantitative","title":"Normalized intensity"},"color":{"field":"age","type":"nominal","title":"Age category","scale":{"domain":["4−7 years",">7−11 years",">11−18 years",">18−29 years"],"range":["#F8766D","#7CAE00","#00BFC4","#C77CFF"]},"legend":{"orient":"none","legendX":246,"legendY":-10}}}}
 ]},
{"title":{"text":"Arginine","dx":26},"width":222,"height":121,
 "encoding":{"x":{"field":"t","type":"nominal","title":"Type","sort":["Control","DMD"],"scale":{"paddingInner":0.25,"paddingOuter":0.225},"axis":{"bandPosition":0.5,"grid":true}}},
 "layer":[
 {"data":{"name":"box"},"transform":[{"filter":"datum.p==10"}],"mark":{"type":"rule","color":"#333333","strokeWidth":1.3},"encoding":{"y":{"field":"lo","type":"quantitative","title":"Normalized intensity","scale":{"domain":[-9.53,-5.27],"nice":false,"zero":false},"axis":{"tickCount":100,"values":[-6,-7,-8,-9],"format":"d"}},"y2":{"field":"hi"}}},
 {"data":{"name":"box"},"transform":[{"filter":"datum.p==10"}],"mark":{"type":"bar","fill":"white","stroke":"#333333","strokeWidth":1.4},"encoding":{"y":{"field":"q1","type":"quantitative","title":"Normalized intensity"},"y2":{"field":"q3"}}},
 {"data":{"name":"box"},"transform":[{"filter":"datum.p==10"}],"mark":{"type":"bar","fill":"white","stroke":"#333333","strokeWidth":2.6},"encoding":{"y":{"field":"med","type":"quantitative","title":"Normalized intensity"},"y2":{"field":"med"}}},
 {"data":{"name":"pts"},"transform":[{"filter":"datum.p==10"},{"lookup":"a","from":{"data":{"name":"ages"},"key":"a","fields":["age"]}}],"mark":{"type":"circle","size":80,"opacity":1},"encoding":{"y":{"field":"v","type":"quantitative","title":"Normalized intensity"},"color":{"field":"age","type":"nominal","title":"Age category","scale":{"domain":["4−7 years",">7−11 years",">11−18 years",">18−29 years"],"range":["#F8766D","#7CAE00","#00BFC4","#C77CFF"]},"legend":{"orient":"none","legendX":245,"legendY":-10}}}}
 ]}
]},
{"spacing":59,"resolve":{"scale":{"color":"independent","x":"independent","y":"independent"},"legend":{"color":"independent"}},"hconcat":[
{"title":{"text":"m/z=449.25","dx":19},"width":223,"height":121,
 "encoding":{"x":{"field":"t","type":"nominal","title":"Type","sort":["Control","DMD"],"scale":{"paddingInner":0.25,"paddingOuter":0.225},"axis":{"bandPosition":0.5,"grid":true}}},
 "layer":[
 {"data":{"name":"box"},"transform":[{"filter":"datum.p==11"}],"mark":{"type":"rule","color":"#333333","strokeWidth":1.3},"encoding":{"y":{"field":"lo","type":"quantitative","title":"Normalized intensity","scale":{"domain":[-8.75,-2.13],"nice":false,"zero":false},"axis":{"tickCount":100,"values":[-4,-6,-8],"format":"d"}},"y2":{"field":"hi"}}},
 {"data":{"name":"box"},"transform":[{"filter":"datum.p==11"}],"mark":{"type":"bar","fill":"white","stroke":"#333333","strokeWidth":1.4},"encoding":{"y":{"field":"q1","type":"quantitative","title":"Normalized intensity"},"y2":{"field":"q3"}}},
 {"data":{"name":"box"},"transform":[{"filter":"datum.p==11"}],"mark":{"type":"bar","fill":"white","stroke":"#333333","strokeWidth":2.6},"encoding":{"y":{"field":"med","type":"quantitative","title":"Normalized intensity"},"y2":{"field":"med"}}},
 {"data":{"name":"pts"},"transform":[{"filter":"datum.p==11"},{"lookup":"a","from":{"data":{"name":"ages"},"key":"a","fields":["age"]}}],"mark":{"type":"circle","size":80,"opacity":1},"encoding":{"y":{"field":"v","type":"quantitative","title":"Normalized intensity"},"color":{"field":"age","type":"nominal","title":"Age category","scale":{"domain":["4−7 years",">7−11 years",">11−18 years",">18−29 years"],"range":["#F8766D","#7CAE00","#00BFC4","#C77CFF"]},"legend":{"orient":"none","legendX":246,"legendY":-10}}}}
 ]},
{"title":{"text":"m/z=357.03","dx":18},"width":222,"height":121,
 "encoding":{"x":{"field":"t","type":"nominal","title":"Type","sort":["Control","DMD"],"scale":{"paddingInner":0.25,"paddingOuter":0.225},"axis":{"bandPosition":0.5,"grid":true}}},
 "layer":[
 {"data":{"name":"box"},"transform":[{"filter":"datum.p==12"}],"mark":{"type":"rule","color":"#333333","strokeWidth":1.3},"encoding":{"y":{"field":"lo","type":"quantitative","title":"Normalized intensity","scale":{"domain":[-7.05,-2.35],"nice":false,"zero":false},"axis":{"tickCount":100,"values":[-3,-4,-5,-6,-7],"format":"d"}},"y2":{"field":"hi"}}},
 {"data":{"name":"box"},"transform":[{"filter":"datum.p==12"}],"mark":{"type":"bar","fill":"white","stroke":"#333333","strokeWidth":1.4},"encoding":{"y":{"field":"q1","type":"quantitative","title":"Normalized intensity"},"y2":{"field":"q3"}}},
 {"data":{"name":"box"},"transform":[{"filter":"datum.p==12"}],"mark":{"type":"bar","fill":"white","stroke":"#333333","strokeWidth":2.6},"encoding":{"y":{"field":"med","type":"quantitative","title":"Normalized intensity"},"y2":{"field":"med"}}},
 {"data":{"name":"pts"},"transform":[{"filter":"datum.p==12"},{"lookup":"a","from":{"data":{"name":"ages"},"key":"a","fields":["age"]}}],"mark":{"type":"circle","size":80,"opacity":1},"encoding":{"y":{"field":"v","type":"quantitative","title":"Normalized intensity"},"color":{"field":"age","type":"nominal","title":"Age category","scale":{"domain":["4−7 years",">7−11 years",">11−18 years",">18−29 years"],"range":["#F8766D","#7CAE00","#00BFC4","#C77CFF"]},"legend":{"orient":"none","legendX":245,"legendY":-10}}}}
 ]}
]},
{"spacing":59,"resolve":{"scale":{"color":"independent","x":"independent","y":"independent"},"legend":{"color":"independent"}},"hconcat":[
{"title":{"text":"m/z=209.12","dx":19},"width":223,"height":121,
 "encoding":{"x":{"field":"t","type":"nominal","title":"Type","sort":["Control","DMD"],"scale":{"paddingInner":0.25,"paddingOuter":0.225},"axis":{"bandPosition":0.5,"grid":true}}},
 "layer":[
 {"data":{"name":"box"},"transform":[{"filter":"datum.p==13"}],"mark":{"type":"rule","color":"#333333","strokeWidth":1.3},"encoding":{"y":{"field":"lo","type":"quantitative","title":"Normalized intensity","scale":{"domain":[-9.67,-6.68],"nice":false,"zero":false},"axis":{"tickCount":100,"values":[-7,-8,-9],"format":"d"}},"y2":{"field":"hi"}}},
 {"data":{"name":"box"},"transform":[{"filter":"datum.p==13"}],"mark":{"type":"bar","fill":"white","stroke":"#333333","strokeWidth":1.4},"encoding":{"y":{"field":"q1","type":"quantitative","title":"Normalized intensity"},"y2":{"field":"q3"}}},
 {"data":{"name":"box"},"transform":[{"filter":"datum.p==13"}],"mark":{"type":"bar","fill":"white","stroke":"#333333","strokeWidth":2.6},"encoding":{"y":{"field":"med","type":"quantitative","title":"Normalized intensity"},"y2":{"field":"med"}}},
 {"data":{"name":"pts"},"transform":[{"filter":"datum.p==13"},{"lookup":"a","from":{"data":{"name":"ages"},"key":"a","fields":["age"]}}],"mark":{"type":"circle","size":80,"opacity":1},"encoding":{"y":{"field":"v","type":"quantitative","title":"Normalized intensity"},"color":{"field":"age","type":"nominal","title":"Age category","scale":{"domain":["4−7 years",">7−11 years",">11−18 years",">18−29 years"],"range":["#F8766D","#7CAE00","#00BFC4","#C77CFF"]},"legend":{"orient":"none","legendX":246,"legendY":-10}}}}
 ]},
{"title":{"text":"m/z=432.24","dx":15},"width":200,"height":121,
 "encoding":{"x":{"field":"t","type":"nominal","title":"Type","sort":["Control","DMD"],"scale":{"paddingInner":0.25,"paddingOuter":0.225},"axis":{"bandPosition":0.5,"grid":true}}},
 "layer":[
 {"data":{"name":"box"},"transform":[{"filter":"datum.p==14"}],"mark":{"type":"rule","color":"#333333","strokeWidth":1.3},"encoding":{"y":{"field":"lo","type":"quantitative","title":"Normalized intensity","scale":{"domain":[-11.06,-0.94],"nice":false,"zero":false},"axis":{"tickCount":100,"values":[-2.5,-5,-7.5,-10],"format":".1f"}},"y2":{"field":"hi"}}},
 {"data":{"name":"box"},"transform":[{"filter":"datum.p==14"}],"mark":{"type":"bar","fill":"white","stroke":"#333333","strokeWidth":1.4},"encoding":{"y":{"field":"q1","type":"quantitative","title":"Normalized intensity"},"y2":{"field":"q3"}}},
 {"data":{"name":"box"},"transform":[{"filter":"datum.p==14"}],"mark":{"type":"bar","fill":"white","stroke":"#333333","strokeWidth":2.6},"encoding":{"y":{"field":"med","type":"quantitative","title":"Normalized intensity"},"y2":{"field":"med"}}},
 {"data":{"name":"pts"},"transform":[{"filter":"datum.p==14"},{"lookup":"a","from":{"data":{"name":"ages"},"key":"a","fields":["age"]}}],"mark":{"type":"circle","size":80,"opacity":1},"encoding":{"y":{"field":"v","type":"quantitative","title":"Normalized intensity"},"color":{"field":"age","type":"nominal","title":"Age category","scale":{"domain":["4−7 years",">7−11 years",">11−18 years",">18−29 years"],"range":["#F8766D","#7CAE00","#00BFC4","#C77CFF"]},"legend":{"orient":"none","legendX":223,"legendY":-10}}}}
 ]}
]}
]
}
